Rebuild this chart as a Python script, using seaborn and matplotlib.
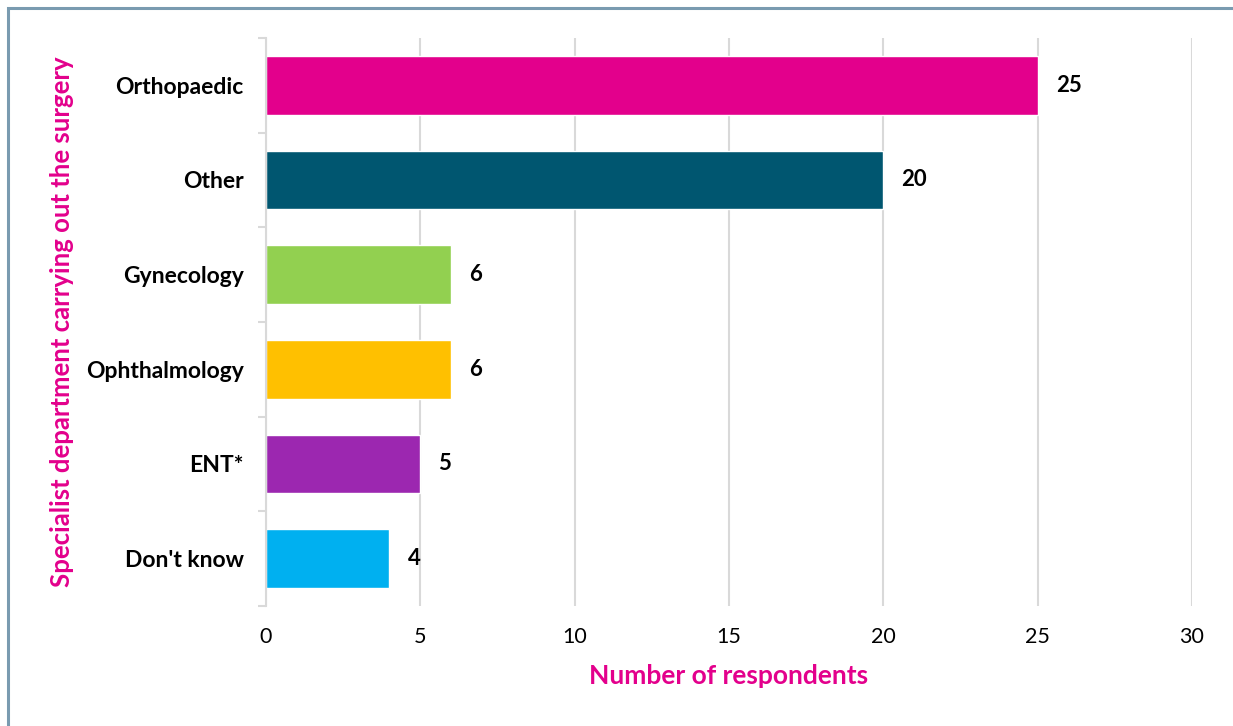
import matplotlib
matplotlib.use("Agg")
import matplotlib.pyplot as plt
from matplotlib.patches import Rectangle
import numpy as np
import pandas as pd
import seaborn as sns

departments = ["Orthopaedic", "Other", "Gynecology", "Ophthalmology", "ENT*", "Don't know"]
respondents = [25, 20, 6, 6, 5, 4]
bar_colors = ["#E3008C", "#005670", "#92D050", "#FFC000", "#9C27B0", "#00B0F0"]
x_ticks = [0, 5, 10, 15, 20, 25, 30]

sns.set_theme(style="white")
plt.rcParams["font.family"] = ["Lato", "DejaVu Sans"]

df = pd.DataFrame({"department": departments, "respondents": respondents})

fig = plt.figure(figsize=(12.33, 7.26), dpi=100)
ax = fig.add_axes([266 / 1233, 1 - 606 / 726, (1192 - 266) / 1233, (606 - 38) / 726])

sns.barplot(data=df, y="department", x="respondents", hue="department",
            palette=bar_colors, order=departments, hue_order=departments,
            orient="h", width=0.62, legend=False, ax=ax, saturation=1)

for container in ax.containers:
    ax.bar_label(container, fmt="%d", padding=13, fontsize=16, fontweight="bold",
                 color="black")

ax.set_xlim(0, 30)
ax.set_ylim(len(departments) - 0.5, -0.5)
ax.set_xticks(x_ticks)
ax.set_xticklabels([str(t) for t in x_ticks], fontsize=15.5, color="#000000")
ax.tick_params(axis="x", length=0, pad=15)

ax.set_yticks(range(len(departments)))
ax.set_yticklabels(departments, fontsize=16.5, fontweight="bold", color="#000000")
ax.set_yticks(np.arange(-0.5, len(departments)), minor=True)
ax.tick_params(axis="y", which="major", length=0, pad=16)
ax.tick_params(axis="y", which="minor", length=6, width=1.5, color="#D9D9D9", left=True)

ax.grid(axis="x", color="#D9D9D9", linewidth=1.5)
ax.set_axisbelow(True)
for side in ["top", "right", "bottom"]:
    ax.spines[side].set_visible(False)
ax.spines["left"].set_color("#D9D9D9")
ax.spines["left"].set_linewidth(1.5)

ax.set_xlabel("Number of respondents", fontsize=19, fontweight="bold",
              color="#E3008C", labelpad=12)
ax.set_ylabel("Specialist department carrying out the surgery", fontsize=18.5,
              fontweight="bold", color="#E3008C", labelpad=0)
ax.yaxis.set_label_coords(-0.207, 0.5)

# outer frame along the top and left edges
fig.add_artist(Rectangle((8 / 1233, -0.1), 1.2, 1.1 - 8 / 726,
                         transform=fig.transFigure, fill=False,
                         edgecolor="#7A9BB0", linewidth=2.2))

fig.savefig("out.png", dpi=100, facecolor="white")
